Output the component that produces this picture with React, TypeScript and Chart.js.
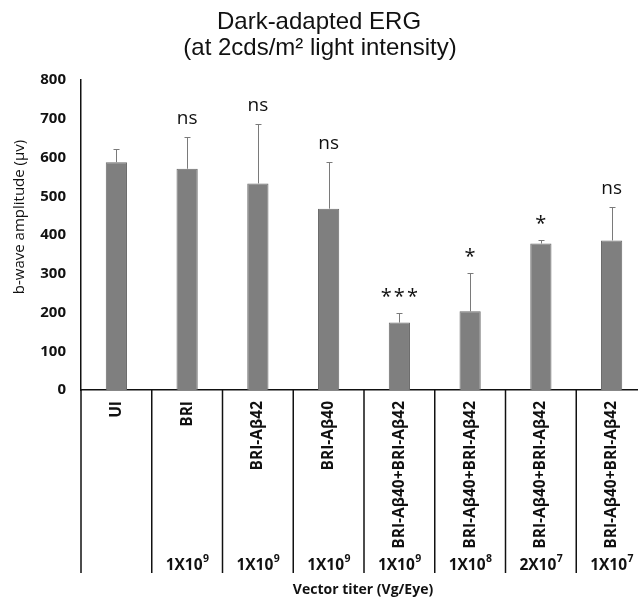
import { useEffect, useRef } from "react";
import { Chart, registerables } from "chart.js";

Chart.register(...registerables);

const categories = [
  "UI",
  "BRI",
  "BRI-Aβ42",
  "BRI-Aβ40",
  "BRI-Aβ40+BRI-Aβ42",
  "BRI-Aβ40+BRI-Aβ42",
  "BRI-Aβ40+BRI-Aβ42",
  "BRI-Aβ40+BRI-Aβ42",
];
const titerBase = ["", "1X10", "1X10", "1X10", "1X10", "1X10", "2X10", "1X10"];
const titerExp = ["", "9", "9", "9", "9", "8", "7", "7"];
const means = [588, 571, 533, 468, 174, 203, 378, 386];
const errors = [35, 82, 153, 121, 26, 98, 10, 86];
const significance = ["", "ns", "ns", "ns", "***", "*", "*", "ns"];
const yMin = 0;
const yMax = 800;
const yStep = 100;
const titleLines = ["Dark-adapted ERG", "(at 2cds/m² light intensity)"];
const yTitle = "b-wave amplitude (μv)";
const xTitle = "Vector titer (Vg/Eye)";

const SANS = "'Open Sans', 'Liberation Sans', sans-serif";

const overlay = {
  id: "overlay",
  afterDatasetsDraw(chart: any) {
    const ctx = chart.ctx;
    const xs = chart.scales.x;
    const ys = chart.scales.y;
    ctx.save();
    ctx.strokeStyle = "#7a7a7a";
    ctx.lineWidth = 1;
    means.forEach((m, i) => {
      const px = Math.round(xs.getPixelForValue(i)) + 0.5;
      const y0 = ys.getPixelForValue(m);
      const y1 = Math.round(ys.getPixelForValue(m + errors[i])) + 0.5;
      ctx.beginPath();
      ctx.moveTo(px, y0);
      ctx.lineTo(px, y1);
      ctx.moveTo(px - 3, y1);
      ctx.lineTo(px + 3, y1);
      ctx.stroke();
    });
    ctx.fillStyle = "#111";
    ctx.textAlign = "center";
    ctx.textBaseline = "alphabetic";
    significance.forEach((s, i) => {
      if (!s) return;
      const px = xs.getPixelForValue(i);
      const top = ys.getPixelForValue(means[i] + errors[i]);
      if (s.startsWith("*")) {
        ctx.font = `20px ${SANS}`;
        (ctx as any).letterSpacing = "2px";
        ctx.fillText(s, px + 1, top - 10);
        (ctx as any).letterSpacing = "0px";
      } else {
        ctx.font = `19px ${SANS}`;
        ctx.fillText(s, px, top - 13);
      }
    });
    ctx.restore();
  },
  afterDraw(chart: any) {
    const ctx = chart.ctx;
    const xs = chart.scales.x;
    const area = chart.chartArea;
    ctx.save();
    // titles
    ctx.fillStyle = "#111";
    ctx.textAlign = "center";
    ctx.textBaseline = "middle";
    ctx.font = "24px 'Liberation Sans', Arial, sans-serif";
    ctx.fillText(titleLines[0], 319, 22);
    ctx.fillText(titleLines[1], 320, 48);

    // dividers below axis
    const w = xs.getPixelForValue(1) - xs.getPixelForValue(0);
    ctx.strokeStyle = "#111";
    ctx.lineWidth = 1.5;
    for (let i = 0; i <= categories.length; i++) {
      const bx = xs.getPixelForValue(0) - w / 2 + i * w;
      ctx.beginPath();
      ctx.moveTo(bx, area.bottom);
      ctx.lineTo(bx, 573);
      ctx.stroke();
    }

    // titer row
    ctx.fillStyle = "#111";
    ctx.textBaseline = "alphabetic";
    ctx.textAlign = "left";
    titerBase.forEach((b, i) => {
      if (!b) return;
      const cx = xs.getPixelForValue(i);
      ctx.font = `bold 15.5px ${SANS}`;
      const bw = ctx.measureText(b).width;
      ctx.font = `bold 10.5px ${SANS}`;
      const ew = ctx.measureText(titerExp[i]).width;
      const sx = cx - (bw + ew) / 2;
      ctx.font = `bold 15.5px ${SANS}`;
      ctx.fillText(b, sx, 570);
      ctx.font = `bold 10.5px ${SANS}`;
      ctx.fillText(titerExp[i], sx + bw + 0.5, 562);
    });

    // x title
    ctx.textAlign = "center";
    ctx.textBaseline = "middle";
    ctx.font = `bold 14px ${SANS}`;
    ctx.fillText(xTitle, 363, 590);

    // y title
    ctx.save();
    ctx.translate(20, 217);
    ctx.rotate(-Math.PI / 2);
    ctx.font = `15px ${SANS}`;
    ctx.fillText(yTitle, 0, 0);
    ctx.restore();

    ctx.restore();
  },
};

export default function App() {
  const ref = useRef<HTMLCanvasElement>(null);
  useEffect(() => {
    if (!ref.current) return;
    const chart = new Chart(ref.current, {
      type: "bar",
      data: {
        labels: categories,
        datasets: [
          {
            data: means,
            backgroundColor: "#7f7f7f",
            borderColor: "#6b6b6b",
            borderWidth: 1,
            barPercentage: 0.3,
            categoryPercentage: 1,
          },
        ],
      },
      options: {
        responsive: false,
        animation: false,
        layout: { padding: { top: 80, right: 14, left: 0, bottom: 0 } },
        plugins: {
          legend: { display: false },
          tooltip: { enabled: false },
          title: { display: false },
        },
        scales: {
          x: {
            grid: { display: false, drawTicks: false },
            border: { display: true, color: "#111", width: 1.5 },
            ticks: {
              autoSkip: false,
              minRotation: 90,
              maxRotation: 90,
              padding: 11,
              color: "#111",
              font: { family: SANS, size: 15.5, weight: "bold" },
            },
            afterFit: (s: any) => {
              s.height = 208;
            },
          },
          y: {
            min: yMin,
            max: yMax,
            grid: { display: false, drawTicks: false },
            border: { display: true, color: "#111", width: 1.5 },
            ticks: {
              stepSize: yStep,
              padding: 15,
              color: "#111",
              font: { family: SANS, size: 15, weight: "bold" },
            },
            afterFit: (s: any) => {
              s.width = 81;
            },
          },
        },
      },
      plugins: [overlay],
    });
    return () => chart.destroy();
  }, []);
  return (
    <div
      style={{
        position: "fixed",
        left: 0,
        top: 0,
        width: 638,
        height: 598,
        overflow: "hidden",
        background: "#fff",
      }}
    >
      <canvas ref={ref} width={661} height={598} style={{ display: "block" }} />
    </div>
  );
}
